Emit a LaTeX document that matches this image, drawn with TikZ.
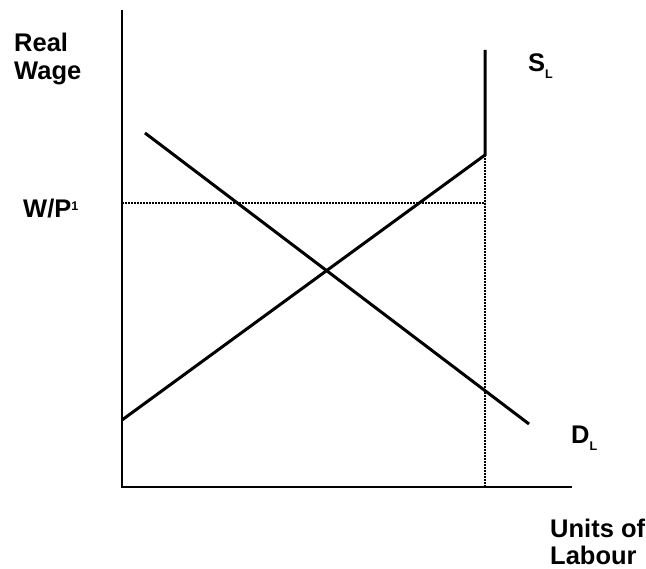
\documentclass[tikz,border=0pt]{standalone}
\usepackage{fontspec}
\setmainfont{Liberation Sans}
\newcommand{\subL}{\raisebox{-7pt}{\fontsize{12.5}{13}\selectfont L}}
\begin{document}
\begin{tikzpicture}[x=1pt,y=-1pt,
  curve/.style={line width=3pt},
  guide/.style={line width=2pt, dash pattern=on 1.6pt off 1.4pt},
  lbl/.style={font=\fontsize{25.5}{28}\selectfont\bfseries, inner sep=0pt, anchor=base west, align=left}]
\useasboundingbox (0,0) rectangle (646,569);
% coordinates
\coordinate (ytop) at (122,10);
\coordinate (origin) at (122,487);
\coordinate (xend) at (572,487);
\coordinate (s0) at (122,420);
\coordinate (kink) at (485,155);
\coordinate (stop) at (485,50);
\coordinate (d0) at (145,133);
\coordinate (d1) at (529,424);
\coordinate (wp) at (122,203);
\coordinate (wpk) at (485,203);
\coordinate (xk) at (485,487);
% axes
\draw[line width=2.5pt] (ytop) -- (origin) -- (xend);
% guides
\draw[guide] (wp) -- (wpk);
\draw[guide] (kink) -- (xk);
% supply
\draw[curve] (s0) -- (kink) -- (stop);
% demand
\draw[curve] (d0) -- (d1);
% labels
\node[lbl] (rw) at (14,80) {Real\\Wage};
\node[lbl] (wpl) at (23,218) {W/P\raisebox{7pt}{\fontsize{12.5}{13}\selectfont 1}};
\node[lbl] (sl) at (528,72) {S\subL};
\node[lbl] (dl) at (571,444) {D\subL};
\node[lbl] (ul) at (550,565) {Units of\\Labour};
\end{tikzpicture}
\end{document}
